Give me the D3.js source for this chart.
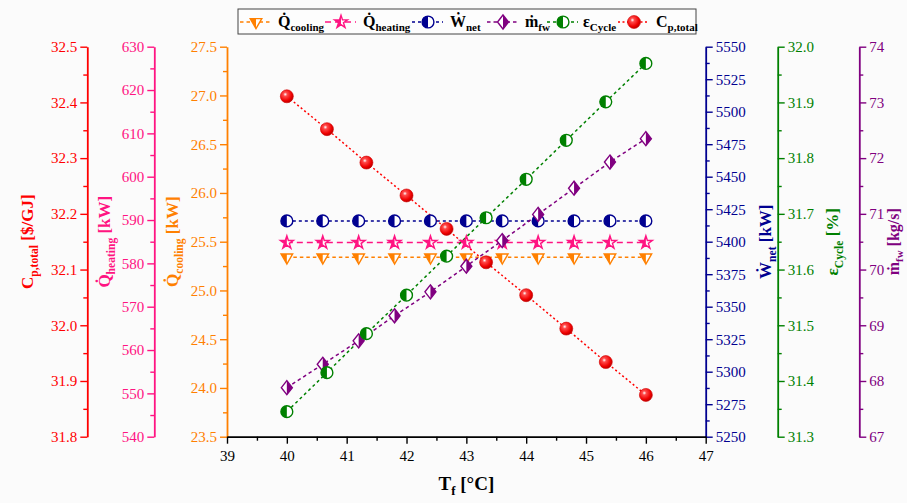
<!DOCTYPE html>
<html><head><meta charset="utf-8">
<script src="https://cdn.jsdelivr.net/npm/d3@7"></script>
<style>
body{margin:0;background:#fbfbfb}
svg{display:block}
text{font-family:"Liberation Serif","Times New Roman",serif}
</style>
</head><body>
<svg id="c" width="907" height="503"></svg>
<script>
// ---------- data ----------
const tempA = [40, 40.6, 41.2, 41.8, 42.4, 43, 43.6, 44.2, 44.8, 45.4, 46];
const tempB = [40, 40.67, 41.33, 42, 42.67, 43.33, 44, 44.67, 45.33, 46];
const qCooling = [25.34, 25.34, 25.34, 25.34, 25.34, 25.34, 25.34, 25.34, 25.34, 25.34, 25.34];
const qHeating = [584.8, 584.8, 584.8, 584.8, 584.8, 584.8, 584.8, 584.8, 584.8, 584.8, 584.8];
const wNet = [5416, 5416, 5416, 5416, 5416, 5416, 5416, 5416, 5416, 5416, 5416];
const mFw = [67.88, 68.30, 68.72, 69.17, 69.60, 70.06, 70.52, 70.99, 71.46, 71.93, 72.35];
const epsCycle = [31.345, 31.415, 31.485, 31.554, 31.624, 31.693, 31.762, 31.832, 31.901, 31.970];
const cpTotal = [32.411, 32.352, 32.292, 32.233, 32.173, 32.113, 32.054, 31.994, 31.934, 31.875];

const xTicks = [39, 40, 41, 42, 43, 44, 45, 46, 47];
const cpTicks = [31.8, 31.9, 32.0, 32.1, 32.2, 32.3, 32.4, 32.5];
const qhTicks = [540, 550, 560, 570, 580, 590, 600, 610, 620, 630];
const qcTicks = [23.5, 24.0, 24.5, 25.0, 25.5, 26.0, 26.5, 27.0, 27.5];
const wTicks = [5250, 5275, 5300, 5325, 5350, 5375, 5400, 5425, 5450, 5475, 5500, 5525, 5550];
const epsTicks = [31.3, 31.4, 31.5, 31.6, 31.7, 31.8, 31.9, 32.0];
const mTicks = [67, 68, 69, 70, 71, 72, 73, 74];

// ---------- layout ----------
const L = 227, R = 705.7, T = 46.7, B = 436.7;
const svg = d3.select("#c");
svg.append("rect").attr("width", 907).attr("height", 503).attr("fill", "#fbfbfb");

const defs = svg.append("defs");
defs.append("clipPath").attr("id", "lh").append("rect").attr("x", -20).attr("y", -20).attr("width", 20).attr("height", 40);
defs.append("clipPath").attr("id", "rh").append("rect").attr("x", 0).attr("y", -20).attr("width", 20).attr("height", 40);
const rg = defs.append("radialGradient").attr("id", "ball").attr("cx", "0.38").attr("cy", "0.35").attr("r", "0.7");
rg.append("stop").attr("offset", "0").attr("stop-color", "#ffffff");
rg.append("stop").attr("offset", "0.22").attr("stop-color", "#ff4a4a");
rg.append("stop").attr("offset", "0.7").attr("stop-color", "#ee0000");
rg.append("stop").attr("offset", "1").attr("stop-color", "#b00000");

const x = d3.scaleLinear([39, 47], [L, R]);
const yCp = d3.scaleLinear([31.8, 32.5], [B, T]);
const yQh = d3.scaleLinear([540, 630], [B, T]);
const yQc = d3.scaleLinear([23.5, 27.5], [B, T]);
const yW = d3.scaleLinear([5250, 5550], [B, T]);
const yE = d3.scaleLinear([31.3, 32.0], [B, T]);
const yM = d3.scaleLinear([67, 74], [B, T]);

const C = {cp: "#ff0000", qh: "#ff1482", qc: "#ff8000", w: "#000090", e: "#008000", m: "#800080"};

function mids(t) { const r = []; for (let i = 0; i < t.length - 1; i++) r.push((t[i] + t[i + 1]) / 2); return r; }

function drawAxis(gen, scale, ticks, fmt, color, transform) {
  const g = svg.append("g").attr("transform", transform);
  const minor = g.append("g").call(gen(scale).tickValues(mids(ticks)).tickSize(4).tickFormat(""));
  minor.select(".domain").remove();
  minor.selectAll("line").attr("stroke", color).attr("stroke-width", 1.4);
  const major = g.append("g").call(gen(scale).tickValues(ticks).tickFormat(fmt).tickSize(7).tickSizeOuter(0).tickPadding(3));
  major.select(".domain").attr("stroke", color).attr("stroke-width", 1.8);
  major.selectAll("line").attr("stroke", color).attr("stroke-width", 1.4);
  major.selectAll("text").attr("fill", color).attr("font-family", '"Liberation Serif", serif').attr("font-size", 15);
  return g;
}
const f1 = d3.format(".1f"), f0 = d3.format("d");
drawAxis(d3.axisLeft, yCp, cpTicks, f1, C.cp, "translate(87.3,0)");
drawAxis(d3.axisLeft, yQh, qhTicks, f0, C.qh, "translate(154.3,0)");
drawAxis(d3.axisLeft, yQc, qcTicks, f1, C.qc, `translate(${L},0)`);
drawAxis(d3.axisRight, yW, wTicks, f0, C.w, `translate(${R},0)`);
drawAxis(d3.axisRight, yE, epsTicks, f1, C.e, "translate(777.7,0)");
drawAxis(d3.axisRight, yM, mTicks, f0, C.m, "translate(859.3,0)");
const xg = drawAxis(d3.axisBottom, x, xTicks, f0, "#000", `translate(0,${B})`);
xg.selectAll("text").attr("dy", "0.95em");

// ---------- axis titles ----------
function title(xp, yp, parts, color, rot, size) {
  const t = svg.append("text").attr("transform", `translate(${xp},${yp})` + (rot ? " rotate(-90)" : ""))
    .attr("text-anchor", "middle").attr("fill", color).attr("font-weight", "bold").attr("font-size", size);
  let sub = false;
  parts.forEach(p => {
    const s = t.append("tspan").text(p[0]);
    if (p[1] && !sub) { s.attr("dy", size * 0.28).attr("font-size", size * 0.68); sub = true; }
    else if (p[1]) { s.attr("font-size", size * 0.68); }
    else if (sub) { s.attr("dy", -size * 0.28); sub = false; }
  });
  return t;
}
const cy = (T + B) / 2;
title(33, cy, [["C", 0], ["p,total", 1], [" [$/GJ]", 0]], C.cp, true, 17);
title(110, cy, [["Q\u0307", 0], ["heating", 1], [" [kW]", 0]], C.qh, true, 17);
title(178, cy, [["Q\u0307", 0], ["cooling", 1], [" [kW]", 0]], C.qc, true, 17);
title(771, cy, [["\u1E86", 0], ["net", 1], [" [kW]", 0]], C.w, true, 17);
title(838, cy, [["\u03B5", 0], ["Cycle", 1], [" [%]", 0]], C.e, true, 17);
title(899, cy, [["\u1E41", 0], ["fw", 1], [" [kg/s]", 0]], C.m, true, 16);
title((L + R) / 2, 490, [["T", 0], ["f", 1], [" [\u00B0C]", 0]], "#000", false, 19);

// ---------- markers ----------
const sym = {
  tri: d3.symbol(d3.symbolTriangle, 58)(),
  star: d3.symbol(d3.symbolStar, 52)(),
  circ: d3.symbol(d3.symbolCircle, 110)(),
  dia: "M0,-7L5.5,0L0,7L-5.5,0Z"
};
function marker(g, kind, color) {
  if (kind === "ball") {
    g.append("circle").attr("r", 6.5).attr("fill", "url(#ball)").attr("stroke", "#d00000").attr("stroke-width", 0.6);
    return;
  }
  const d = sym[kind];
  const rot = kind === "tri" ? "rotate(180)" : null;
  const half = kind === "dia" ? "url(#rh)" : "url(#lh)";
  g.append("path").attr("d", d).attr("transform", rot).attr("fill", "#fff");
  g.append("g").attr("clip-path", half).append("path").attr("d", d).attr("transform", rot).attr("fill", color);
  g.append("path").attr("d", d).attr("transform", rot).attr("fill", "none").attr("stroke", color).attr("stroke-width", 1.4);
}

const series = [
  {xs: tempA, ys: qCooling, y: yQc, c: C.qc, m: "tri", dash: "3.5,3"},
  {xs: tempA, ys: qHeating, y: yQh, c: C.qh, m: "star", dash: "6,4"},
  {xs: tempA, ys: wNet, y: yW, c: C.w, m: "circ", dash: "3,3"},
  {xs: tempA, ys: mFw, y: yM, c: C.m, m: "dia", dash: "3.5,3"},
  {xs: tempB, ys: epsCycle, y: yE, c: C.e, m: "circ", dash: "3,3"},
  {xs: tempB, ys: cpTotal, y: yCp, c: C.cp, m: "ball", dash: "2,2.5"}
];
series.forEach(s => {
  const pts = s.xs.map((v, i) => [x(v), s.y(s.ys[i])]);
  svg.append("path").attr("d", d3.line()(pts)).attr("fill", "none").attr("stroke", s.c)
    .attr("stroke-width", 1.5).attr("stroke-dasharray", s.dash);
});
series.forEach(s => {
  s.xs.forEach((v, i) => marker(svg.append("g").attr("transform", `translate(${x(v)},${s.y(s.ys[i])})`), s.m, s.c));
});

// ---------- legend ----------
const legendItems = [
  {main: "Q\u0307", sub: "cooling", s: 0},
  {main: "Q\u0307", sub: "heating", s: 1},
  {main: "\u1E86", sub: "net", s: 2},
  {main: "\u1E41", sub: "fw", s: 3},
  {main: "\u03B5", sub: "Cycle", s: 4},
  {main: "C", sub: "p,total", s: 5}
];
const lg = svg.append("g");
lg.append("rect").attr("x", 238).attr("y", 9).attr("width", 458).attr("height", 25)
  .attr("fill", "#fdfdfd").attr("stroke", "#444").attr("stroke-width", 1);
const lx = [240, 325, 412, 487, 547, 618];
legendItems.forEach((it, i) => {
  const s = series[it.s];
  const g = lg.append("g").attr("transform", `translate(${lx[i]},22)`);
  g.append("line").attr("x1", 0).attr("x2", 31).attr("stroke", s.c).attr("stroke-width", 1.5).attr("stroke-dasharray", s.dash);
  marker(g.append("g").attr("transform", "translate(16,0)"), s.m, s.c);
  const t = g.append("text").attr("x", it.main === "\u03B5" ? 36 : 38).attr("y", 5).attr("font-weight", "bold").attr("font-size", 16).attr("fill", "#000");
  t.append("tspan").text(it.main);
  t.append("tspan").text(it.sub).attr("font-size", 11).attr("dy", 4);
});
</script>
</body></html>
